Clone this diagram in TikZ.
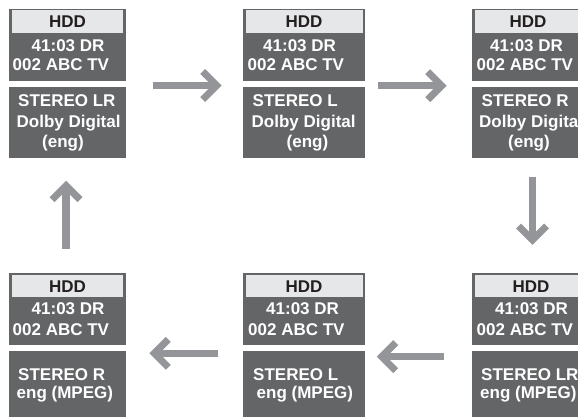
\documentclass[tikz,border=0pt]{standalone}
\usepackage{fontspec}
\setmainfont{Liberation Sans}
\usetikzlibrary{calc}
\definecolor{boxgray}{HTML}{646567}
\definecolor{headgray}{HTML}{E6E7E8}
\definecolor{arrgray}{HTML}{939598}
\definecolor{ink}{HTML}{231F20}
\tikzset{
  panel/.style={fill=boxgray, draw=none},
  headbox/.style={fill=headgray, draw=none},
  wtxt/.style={anchor=base west, inner sep=0pt, text=white, font=\fontsize{17}{19}\selectfont\bfseries},
  htxt/.style={anchor=base, inner sep=0pt, text=ink, font=\fontsize{17}{19}\selectfont\bfseries},
  shaft/.style={draw=arrgray, line width=7.5pt, line cap=butt},
  chevron/.style={draw=arrgray, line width=7pt, line cap=butt, line join=miter}
}
\begin{document}
\begin{tikzpicture}[x=1pt,y=-1pt]
\useasboundingbox (0,0) rectangle (578,417);
\clip (0,0) rectangle (578,417);
% ---------- boxes ----------
% top row
\fill[panel] (9,9) rectangle (126,81);
\fill[headbox] (12,10.5) rectangle (123,33);
\fill[panel] (9,87) rectangle (126,158);
\fill[panel] (243,9) rectangle (365,81);
\fill[headbox] (245.5,10.5) rectangle (362.5,33);
\fill[panel] (243,87) rectangle (365,158);
\fill[panel] (472,9) rectangle (594,81);
\fill[headbox] (475,10.5) rectangle (591,33);
\fill[panel] (472,87) rectangle (594,158);
% bottom row
\fill[panel] (9,273) rectangle (126,345);
\fill[headbox] (12,275) rectangle (123,297);
\fill[panel] (9,351) rectangle (126,420);
\fill[panel] (243,273) rectangle (365,345);
\fill[headbox] (245.5,275) rectangle (362.5,297);
\fill[panel] (243,351) rectangle (365,420);
\fill[panel] (472,273) rectangle (594,345);
\fill[headbox] (475,275) rectangle (591,297);
\fill[panel] (472,351) rectangle (594,420);
% ---------- texts, top row ----------
\node[htxt] (h1) at (67.5,27.8) {HDD};
\node[wtxt] (t1a) at (31.5,51.7) {41:03 DR};
\node[wtxt] (t1b) at (12.5,71) {002 ABC TV};
\node[wtxt] (t1c) at (18,106.7) {STEREO LR};
\node[wtxt] (t1d) at (16.5,128) {Dolby Digital};
\node[wtxt] (t1e) at (42,147) {(eng)};
\node[htxt] (h2) at (304,27.8) {HDD};
\node[wtxt] (t2a) at (263,51.7) {41:03 DR};
\node[wtxt] (t2b) at (247.5,71) {002 ABC TV};
\node[wtxt] (t2c) at (252.5,106.7) {STEREO L};
\node[wtxt] (t2d) at (251.5,128) {Dolby Digital};
\node[wtxt] (t2e) at (286.5,147) {(eng)};
\node[htxt] (h3) at (528,27.8) {HDD};
\node[wtxt] (t3a) at (490,51.7) {41:03 DR};
\node[wtxt] (t3b) at (476.5,71) {002 ABC TV};
\node[wtxt] (t3c) at (481.5,106.7) {STEREO R};
\node[wtxt] (t3d) at (479,128) {Dolby Digital};
\node[wtxt] (t3e) at (508,147) {(eng)};
% ---------- texts, bottom row ----------
\node[htxt] (h4) at (67.5,292) {HDD};
\node[wtxt] (t4a) at (31.5,314) {41:03 DR};
\node[wtxt] (t4b) at (12.5,335) {002 ABC TV};
\node[wtxt] (t4c) at (18,380) {STEREO R};
\node[wtxt] (t4d) at (16.5,398) {eng (MPEG)};
\node[htxt] (h5) at (304,292) {HDD};
\node[wtxt] (t5a) at (266,314) {41:03 DR};
\node[wtxt] (t5b) at (248,335) {002 ABC TV};
\node[wtxt] (t5c) at (253,380) {STEREO L};
\node[wtxt] (t5d) at (256.5,398) {eng (MPEG)};
\node[htxt] (h6) at (531,292) {HDD};
\node[wtxt] (t6a) at (495,314) {41:03 DR};
\node[wtxt] (t6b) at (476.5,335) {002 ABC TV};
\node[wtxt] (t6c) at (481,380) {STEREO LR};
\node[wtxt] (t6d) at (480,398) {eng (MPEG)};
% ---------- arrows ----------
\coordinate (a1s) at (152.7,85.5);  \coordinate (a1e) at (216.7,85.5);
\coordinate (a2s) at (378,85.7);    \coordinate (a2e) at (441.7,85.7);
\coordinate (a3s) at (532.5,176.7); \coordinate (a3e) at (532.5,240);
\coordinate (a4s) at (444,356.7);   \coordinate (a4e) at (381.7,356.7);
\coordinate (a5s) at (217.7,353.3); \coordinate (a5e) at (154.3,353.3);
\coordinate (a6s) at (66,249);      \coordinate (a6e) at (66,185.7);
% right
\draw[shaft] (a1s) -- (a1e);
\draw[chevron] ($(a1e)+(-14,-14)$) -- (a1e) -- ($(a1e)+(-14,14)$);
\draw[shaft] (a2s) -- (a2e);
\draw[chevron] ($(a2e)+(-14,-14)$) -- (a2e) -- ($(a2e)+(-14,14)$);
% down
\draw[shaft] (a3s) -- (a3e);
\draw[chevron] ($(a3e)+(-14,-14)$) -- (a3e) -- ($(a3e)+(14,-14)$);
% left
\draw[shaft] (a4s) -- (a4e);
\draw[chevron] ($(a4e)+(14,-14)$) -- (a4e) -- ($(a4e)+(14,14)$);
\draw[shaft] (a5s) -- (a5e);
\draw[chevron] ($(a5e)+(14,-14)$) -- (a5e) -- ($(a5e)+(14,14)$);
% up
\draw[shaft] (a6s) -- (a6e);
\draw[chevron] ($(a6e)+(-14,14)$) -- (a6e) -- ($(a6e)+(14,14)$);
\end{tikzpicture}
\end{document}
